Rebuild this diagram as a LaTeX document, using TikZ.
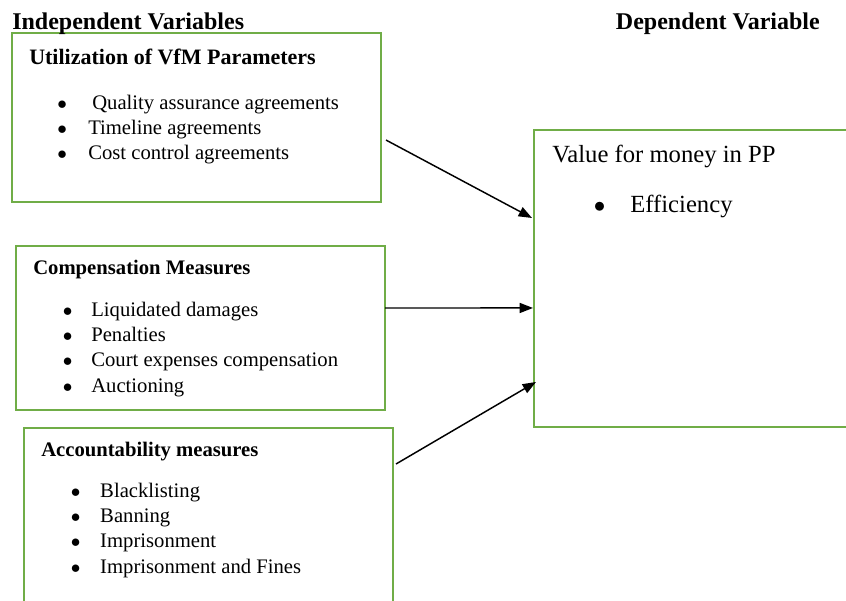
\documentclass[tikz,border=0pt]{standalone}
\usepackage{fontspec}
\setmainfont{Liberation Serif}
\usepackage{tikz}
\usetikzlibrary{arrows.meta}
\definecolor{boxgreen}{RGB}{112,173,71}
\newcommand{\bul}[1]{\makebox[#1][l]{$\bullet$}}

\begin{document}
\begin{tikzpicture}[x=0.75pt,y=0.75pt,yscale=-1,xscale=1,
  vbox/.style={draw=boxgreen, line width=1.5pt, anchor=north west, inner sep=0pt, outer sep=0pt},
  hdtxt/.style={inner sep=0pt, font=\fontsize{18}{22}\selectfont\bfseries},
  ttltxt/.style={inner sep=0pt, anchor=base west, font=\fontsize{15.5}{19}\selectfont\bfseries},
  itmtxt/.style={inner sep=0pt, anchor=base west, font=\fontsize{15.5}{19.1}\selectfont},
  vfmtxt/.style={inner sep=0pt, anchor=base west, font=\fontsize{18.5}{22}\selectfont},
  conn/.style={line width=1.1pt, -{Triangle[length=10pt,width=7.5pt]}}]
\path [use as bounding box] (0,0) rectangle (846,600);
\clip (0,0) rectangle (846,600);

%Shape: Rectangle [util]
\node [vbox, minimum width=276.75pt, minimum height=126.75pt] (util) at (12,33) {};
%Shape: Rectangle [comp]
\node [vbox, minimum width=276.75pt, minimum height=123pt] (comp) at (16,246) {};
%Shape: Rectangle [acct]
\node [vbox, minimum width=276.75pt, minimum height=150pt] (acct) at (24,428) {};
%Shape: Rectangle [vfm]
\node [vbox, minimum width=252pt, minimum height=222.75pt] (vfm) at (534,130) {};

%Straight Lines [util -> vfm]
\draw [conn] ([xshift=3.75pt,yshift=16.9pt]util.east) -- ([xshift=-1.5pt,yshift=-45.4pt]vfm.west);
%Straight Lines [comp -> vfm]
\draw [conn] ([yshift=-15pt]comp.east) -- ([xshift=-0.75pt,yshift=22.1pt]vfm.west);
%Straight Lines [acct -> vfm]
\draw [conn] ([xshift=2.25pt,yshift=27pt]acct.north east) -- ([xshift=1.5pt,yshift=77.6pt]vfm.west);

% Text Node
\node [hdtxt, anchor=base west] (indep) at (12,29) {Independent Variables};
% Text Node
\node [hdtxt, anchor=base east] (dep) at (820,29) {Dependent Variable};

% Text Node
\node [ttltxt, font=\fontsize{16.5}{20}\selectfont\bfseries] (utilttl) at (29,64) {Utilization of VfM Parameters};
% Text Node
\node [itmtxt] (utillist) at (57,109) {\begin{tabular}[t]{@{}l@{}}
  \bul{26.25pt}Quality assurance agreements\\
  \bul{23.25pt}Timeline agreements\\
  \bul{23.25pt}Cost control agreements
\end{tabular}};

% Text Node
\node [ttltxt] (compttl) at (33,274) {Compensation Measures};
% Text Node
\node [itmtxt] (complist) at (62.5,316) {\begin{tabular}[t]{@{}l@{}}
  \bul{21.4pt}Liquidated damages\\
  \bul{21.4pt}Penalties\\
  \bul{21.4pt}Court expenses compensation\\
  \bul{21.4pt}Auctioning
\end{tabular}};

% Text Node
\node [ttltxt] (acctttl) at (41,456) {Accountability measures};
% Text Node
\node [itmtxt] (acctlist) at (70.5,497) {\begin{tabular}[t]{@{}l@{}}
  \bul{22.1pt}Blacklisting\\
  \bul{22.1pt}Banning\\
  \bul{22.1pt}Imprisonment\\
  \bul{22.1pt}Imprisonment and Fines
\end{tabular}};

% Text Node
\node [vfmtxt] (vfmttl) at (552,162) {Value for money in PP};
% Text Node
\node [vfmtxt, font=\fontsize{17}{22}\selectfont] (vfme) at (593.5,212) {\bul{27.4pt}{\fontsize{18.5}{22}\selectfont Efficiency}};

\end{tikzpicture}
\end{document}
